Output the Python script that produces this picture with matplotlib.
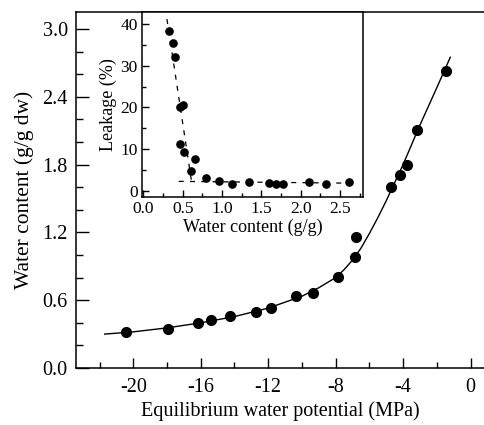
import matplotlib
matplotlib.use("Agg")
import matplotlib.pyplot as plt
from matplotlib.ticker import MultipleLocator

plt.rcParams['font.family'] = ['Liberation Serif', 'DejaVu Serif']

# main panel: water content vs equilibrium water potential
potential = [-20.41, -17.95, -16.17, -15.38, -14.26, -12.72, -11.82, -10.36, -9.37,
             -7.89, -6.85, -6.79, -4.71, -4.20, -3.77, -3.17, -1.47]
water = [0.32, 0.345, 0.396, 0.425, 0.463, 0.498, 0.534, 0.640, 0.666,
         0.806, 0.985, 1.157, 1.605, 1.71, 1.80, 2.11, 2.625]

# fitted curve
fit_x = [-21.7, -20, -18, -16, -14, -12, -10, -9, -8, -7.5, -7, -6.5, -6, -5.5, -5,
         -4.5, -4, -3, -2, -1.2]
fit_y = [0.30, 0.32, 0.355, 0.40, 0.455, 0.53, 0.635, 0.71, 0.80, 0.87, 0.955, 1.06,
         1.19, 1.33, 1.48, 1.64, 1.80, 2.15, 2.48, 2.75]

# inset: leakage vs water content
wc = [0.33, 0.377, 0.40, 0.46, 0.51, 0.47, 0.52, 0.66, 0.61, 0.80, 0.955, 1.13,
      1.34, 1.59, 1.69, 1.77, 2.10, 2.32, 2.61]
leak = [38.3, 35.5, 32.1, 20.1, 20.5, 11.1, 9.35, 7.7, 4.8, 3.05, 2.4, 1.6,
        2.1, 1.77, 1.53, 1.53, 2.0, 1.6, 2.0]
steep_x = [0.30, 0.62]
steep_y = [41.2, 1.3]
flat_x = [0.45, 2.72]
flat_y = [2.25, 1.8]

fig = plt.figure(figsize=(4.85, 4.25), dpi=100)
ax = fig.add_axes([0.1567, 0.1341, 0.8413, 0.8377])
ax.plot(fit_x, fit_y, color='black', lw=1.0)
ax.plot(potential, water, 'o', color='black', ms=7)
ax.set_xlim(-23.4, 0.8)
ax.set_ylim(0, 3.15)
ax.xaxis.set_minor_locator(MultipleLocator(2))
ax.yaxis.set_minor_locator(MultipleLocator(0.2))
ax.set_xticks([-20, -16, -12, -8, -4, 0])
ax.set_xticklabels(['-20', '-16', '-12', '-8', '-4', '0'])
ax.set_yticks([0, 0.6, 1.2, 1.8, 2.4, 3.0])
ax.set_yticklabels(['0.0', '0.6', '1.2', '1.8', '2.4', '3.0'])
ax.tick_params(axis='x', which='major', direction='in', length=7.5, width=1, labelsize=14.5, pad=7)
ax.tick_params(axis='x', which='minor', direction='in', length=4, width=1)
ax.tick_params(axis='y', which='major', direction='in', length=9.5, width=1, labelsize=14.5, pad=6)
ax.tick_params(axis='y', which='minor', direction='in', length=5, width=1)
ax.spines['right'].set_visible(False)
for s in ['left', 'bottom', 'top']:
    ax.spines[s].set_linewidth(1.1)
ax.set_xlabel('Equilibrium water potential (MPa)', fontsize=14.5, labelpad=3)
ax.set_ylabel('Water content (g/g dw)', fontsize=15.5, labelpad=6)

ins = fig.add_axes([0.2922, 0.5365, 0.4563, 0.4353])
ins.plot(steep_x, steep_y, color='black', lw=0.9, ls=(0, (4, 5)))
ins.plot(flat_x, flat_y, color='black', lw=0.9, ls=(0, (4, 5)))
ins.plot(wc, leak, 'o', color='black', ms=5.2)
ins.set_xlim(-0.02, 2.79)
ins.set_ylim(-1.5, 42.9)
ins.set_xticks([0, 0.5, 1.0, 1.5, 2.0, 2.5])
ins.set_xticklabels(['0.0', '0.5', '1.0', '1.5', '2.0', '2.5'])
ins.xaxis.set_minor_locator(MultipleLocator(0.25))
ins.set_yticks([0, 10, 20, 30, 40])
ins.yaxis.set_minor_locator(MultipleLocator(5))
ins.tick_params(axis='both', which='major', direction='in', length=5, width=1, labelsize=12.5, pad=3)
ins.tick_params(axis='both', which='minor', direction='in', length=3, width=1)
for s in ins.spines.values():
    s.set_linewidth(1.1)
ins.set_xlabel('Water content (g/g)', fontsize=13, labelpad=1)
ins.set_ylabel('Leakage (%)', fontsize=13, labelpad=2)

fig.savefig('out.png', dpi=100)
